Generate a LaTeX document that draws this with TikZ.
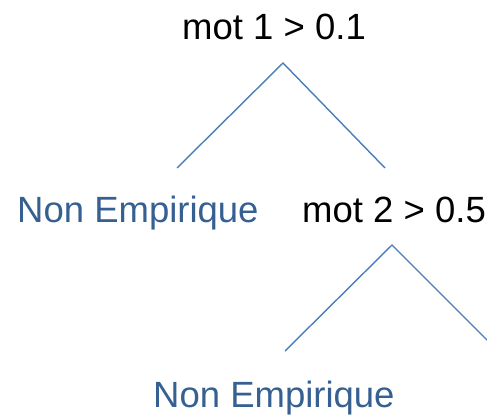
\documentclass[tikz,border=0pt]{standalone}
\usepackage{fontspec}
\setmainfont{Liberation Sans}
\definecolor{leafblue}{RGB}{54,96,146}
\definecolor{edgeblue}{RGB}{74,126,187}
\begin{document}
\begin{tikzpicture}[x=1pt,y=1pt,
  lbl/.style={inner sep=0pt,anchor=base west,font=\fontsize{36.5}{40}\selectfont},
  leaf/.style={lbl,text=leafblue},
  edge/.style={draw=edgeblue,line width=1.4pt}]
\useasboundingbox (0,0) rectangle (487,416);
\clip (0,0) rectangle (487,416);
\node[lbl] (root) at (182,376) {mot 1 > 0.1};
\node[leaf] (leafA) at (17,194) {Non Empirique};
\node[lbl] (split2) at (302,194) {mot 2 > 0.5};
\node[leaf] (leafB) at (153,9) {Non Empirique};
\coordinate (apexA) at (283,353);
\coordinate (endAl) at (177,248);
\coordinate (endAr) at (385,248);
\coordinate (apexB) at (392,171);
\coordinate (endBl) at (285,65);
\coordinate (endBr) at (498,65);
\draw[edge] (endAl) -- (apexA) -- (endAr);
\draw[edge] (endBl) -- (apexB) -- (endBr);
\end{tikzpicture}
\end{document}
